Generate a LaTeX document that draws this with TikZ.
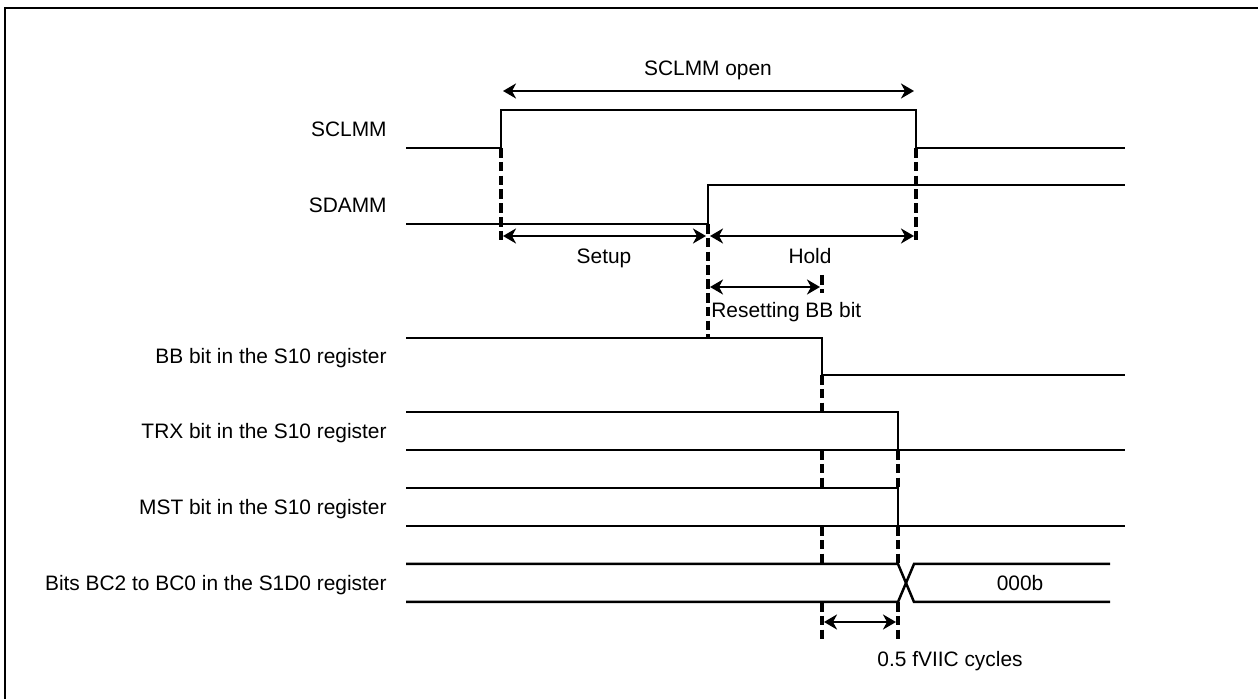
\documentclass[tikz,border=0pt]{standalone}
\usepackage{fontspec}
\setmainfont{Liberation Sans}
\usetikzlibrary{arrows.meta, positioning, calc}

\begin{document}
\begin{tikzpicture}[
    x=0.5pt, y=-0.5pt,
    font=\fontsize{10.45}{12}\selectfont,
    sig/.style={line width=1.25pt},
    guide/.style={line width=1.8pt, dash pattern=on 4.8pt off 2.1pt},
    arr/.style={{Stealth[length=6.5pt, width=7.5pt, inset=2pt]}-{Stealth[length=6.5pt, width=7.5pt, inset=2pt]}, line width=1.2pt},
    txt/.style={inner sep=0pt, text height=7.5pt, text depth=0pt},
    signame/.style={txt, anchor=east}
  ]
  \useasboundingbox (0,0) rectangle (1258,699);
  \draw[line width=1.2pt] (5,699) |- (1258,8);

  % signal names
  \node[signame] (sclName) at (387,129) {SCLMM};
  \node[signame] (sdaName) at (387,205) {SDAMM};
  \node[signame] (bbName)  at (387,356) {BB bit in the S10 register};
  \node[signame] (trxName) at (387,431) {TRX bit in the S10 register};
  \node[signame] (mstName) at (387,507) {MST bit in the S10 register};
  \node[signame] (bcName)  at (387,583) {Bits BC2 to BC0 in the S1D0 register};

  % waveforms
  \draw[sig] (406,148) -- (501,148) -- (501,110) -- (916,110) -- (916,148) -- (1125,148);
  \draw[sig] (406,224) -- (708,224) -- (708,185) -- (1125,185);
  \draw[sig] (406,338) -- (822,338) -- (822,375) -- (1125,375);
  \draw[sig] (406,412) -- (898,412) -- (898,450);
  \draw[sig] (406,450) -- (1125,450);
  \draw[sig] (406,488) -- (898,488) -- (898,526);
  \draw[sig] (406,526) -- (1125,526);
  \draw[sig] (406,564) -- (898,564) -- (914,602) -- (1110,602);
  \draw[sig] (406,602) -- (898,602) -- (914,564) -- (1110,564);
  \node[txt] (bcVal) at (1020,583) {000b};

  % guide lines
  \draw[guide] (501,148) -- (501,243);
  \draw[guide] (916,148) -- (916,243);
  \draw[guide] (708,224) -- (708,338);
  \draw[guide] (822,275) -- (822,293);
  \foreach \ya/\yb in {375/412, 450/488, 526/564, 602/640}
    \draw[guide] (822,\ya) -- (822,\yb);
  \foreach \ya/\yb in {450/488, 526/564, 602/640}
    \draw[guide] (898,\ya) -- (898,\yb);

  % timing arrows
  \coordinate (openL) at (503,91);
  \coordinate (openR) at (914,91);
  \coordinate (setupL) at (503,236);
  \coordinate (setupR) at (706,236);
  \coordinate (holdL) at (710,236);
  \coordinate (holdR) at (914,236);
  \coordinate (resetL) at (710,287);
  \coordinate (resetR) at (820,287);
  \coordinate (halfL) at (824,622);
  \coordinate (halfR) at (896,622);

  \draw[arr] (openL) -- (openR);
  \draw[arr] (setupL) -- (setupR);
  \draw[arr] (holdL) -- (holdR);
  \draw[arr] (resetL) -- (resetR);
  \draw[arr] (halfL) -- (halfR);

  \node[txt] (openLbl) at (708,68) {SCLMM open};
  \node[txt] (setupLbl) at (604,256) {Setup};
  \node[txt] (holdLbl) at (810,256) {Hold};
  \node[txt, anchor=west] (resetLbl) at (711,310) {Resetting BB bit};
  \node[txt, anchor=west] (halfLbl) at (877,659) {0.5 fVIIC cycles};
\end{tikzpicture}
\end{document}
